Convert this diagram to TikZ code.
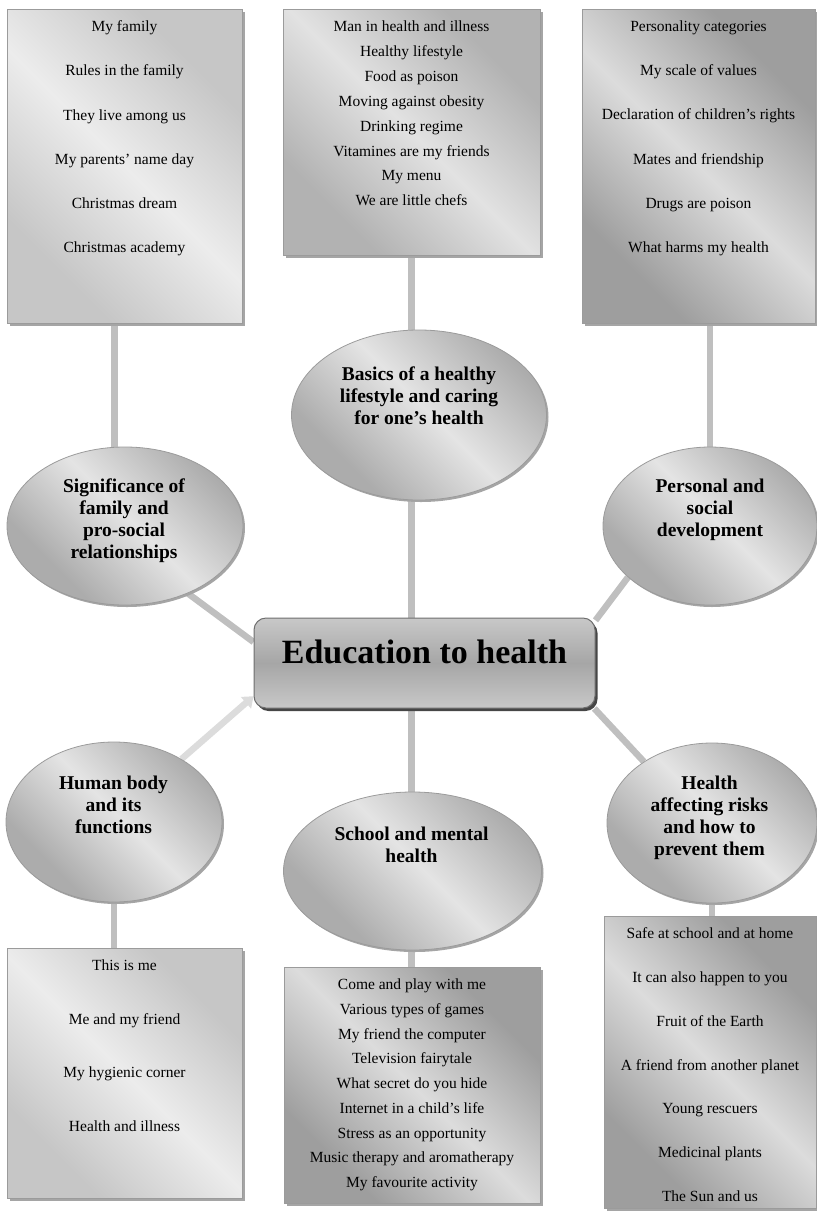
\documentclass[tikz,border=0pt]{standalone}
\usepackage{fontspec}
\setmainfont{Liberation Serif}
\usetikzlibrary{shapes.geometric,shadows,arrows.meta,backgrounds}

\definecolor{linkgray}{RGB}{191,191,191}
\definecolor{linkpale}{RGB}{220,220,220}
\definecolor{rimgray}{RGB}{155,155,155}
\definecolor{hubrim}{RGB}{110,110,110}
\definecolor{paledark}{RGB}{198,198,198}
\definecolor{palelight}{RGB}{236,236,236}
\definecolor{middark}{RGB}{178,178,178}
\definecolor{midlight}{RGB}{226,226,226}
\definecolor{deepdark}{RGB}{158,158,158}
\definecolor{deeplight}{RGB}{220,220,220}
\definecolor{orbdark}{RGB}{172,172,172}
\definecolor{orblight}{RGB}{228,228,228}
\definecolor{hubtop}{RGB}{200,200,200}
\definecolor{hubmid}{RGB}{166,166,166}
\definecolor{shadowgray}{RGB}{165,165,165}
\definecolor{hubshadow}{RGB}{70,70,70}

\pgfdeclarehorizontalshading{panelpale}{100bp}{color(0bp)=(paledark); color(28bp)=(paledark); color(50bp)=(palelight); color(72bp)=(paledark); color(100bp)=(paledark)}
\pgfdeclarehorizontalshading{panelmid}{100bp}{color(0bp)=(middark); color(28bp)=(middark); color(50bp)=(midlight); color(72bp)=(middark); color(100bp)=(middark)}
\pgfdeclarehorizontalshading{paneldeep}{100bp}{color(0bp)=(deepdark); color(28bp)=(deepdark); color(50bp)=(deeplight); color(72bp)=(deepdark); color(100bp)=(deepdark)}
\pgfdeclarehorizontalshading{orbshade}{100bp}{color(0bp)=(orbdark); color(30bp)=(orbdark); color(52bp)=(orblight); color(75bp)=(orbdark); color(100bp)=(orbdark)}

\tikzset{
  panel/.style={rectangle, draw=rimgray, line width=0.8pt, inner sep=0pt,
    shading=#1, shading angle=45,
    drop shadow={shadow xshift=3pt, shadow yshift=-3pt, fill=shadowgray, opacity=1}},
  itemlist/.style={anchor=north, inner sep=0pt, yshift=-12pt, align=center,
    font=\fontsize{15.5}{#1}\selectfont},
  orb/.style={ellipse, draw=rimgray, line width=0.8pt, inner sep=0pt,
    shading=orbshade, shading angle=45,
    drop shadow={shadow xshift=2pt, shadow yshift=-2pt, fill=shadowgray, opacity=1}},
  orbtext/.style={inner sep=0pt, align=center, font=\bfseries\fontsize{19.5}{22}\selectfont},
  hubbox/.style={rectangle, rounded corners=12pt, draw=hubrim, line width=1pt,
    top color=hubtop, bottom color=hubtop, middle color=hubmid,
    drop shadow={shadow xshift=2.5pt, shadow yshift=-3pt, fill=hubshadow, opacity=1},
    font=\bfseries\fontsize{34}{40}\selectfont, text depth=22pt},
  link/.style={draw=linkgray, line width=6.5pt},
  feed/.style={draw=linkpale, line width=6.5pt, -{Triangle[length=10pt,width=15pt]}}
}

\begin{document}
\begin{tikzpicture}[x=1pt, y=-1pt]
    \useasboundingbox (0,0) rectangle (817,1211);

    % panels along the top
    \node[panel=panelpale, minimum width=235pt, minimum height=314pt] (famBox) at (124.5,166) {};
    \node[itemlist=44.2] (famList) at (famBox.north) {My family\\Rules in the family\\They live among us\\My parents’ name day\\Christmas dream\\Christmas academy};

    \node[panel=panelmid, minimum width=257pt, minimum height=246pt] (lifeBox) at (411.5,132) {};
    \node[itemlist=24.9] (lifeList) at (lifeBox.north) {Man in health and illness\\Healthy lifestyle\\Food as poison\\Moving against obesity\\Drinking regime\\Vitamines are my friends\\My menu\\We are little chefs};

    \node[panel=paneldeep, minimum width=233pt, minimum height=314pt] (selfBox) at (698.5,166) {};
    \node[itemlist=44.2] (selfList) at (selfBox.north) {Personality categories\\My scale of values\\Declaration of children’s rights\\Mates and friendship\\Drugs are poison\\What harms my health};

    % topics
    \node[orb, minimum width=236pt, minimum height=158pt] (famTopic) at (125,526) {};
    \node[orbtext] (famText) at (124,521) {Significance of\\family and\\pro-social\\relationships};

    \node[orb, minimum width=255pt, minimum height=170pt] (lifeTopic) at (419,415) {};
    \node[orbtext] (lifeText) at (419,396) {Basics of a healthy\\lifestyle and caring\\for one’s health};

    \node[orb, minimum width=214pt, minimum height=158pt] (selfTopic) at (710,526) {};
    \node[orbtext] (selfText) at (710,510) {Personal and\\social\\development};

    \node[orb, minimum width=216pt, minimum height=160pt] (bodyTopic) at (114,822) {};
    \node[orbtext] (bodyText) at (113.5,805) {Human body\\and its\\functions};

    \node[orb, minimum width=258pt, minimum height=158pt] (schoolTopic) at (412.5,871) {};
    \node[orbtext] (schoolText) at (411.5,845) {School and mental\\health};

    \node[orb, minimum width=210pt, minimum height=160pt] (riskTopic) at (712,823) {};
    \node[orbtext] (riskText) at (709.5,817.5) {Health\\affecting risks\\and how to\\prevent them};

    % centre
    \node[hubbox, minimum width=341pt, minimum height=90pt] (hub) at (424.5,663) {Education to health};

    % panels along the bottom
    \node[panel=panelpale, minimum width=235pt, minimum height=250pt] (bodyBox) at (124.5,1073) {};
    \node[itemlist=53.7] (bodyList) at (bodyBox.north) {This is me\\Me and my friend\\My hygienic corner\\Health and illness};

    \node[panel=paneldeep, minimum width=256pt, minimum height=236pt] (schoolBox) at (412,1085) {};
    \node[itemlist=24.75] (schoolList) at (schoolBox.north) {Come and play with me\\Various types of games\\My friend the computer\\Television fairytale\\What secret do you hide\\Internet in a child’s life\\Stress as an opportunity\\Music therapy and aromatherapy\\My favourite activity};

    \node[panel=paneldeep, minimum width=212pt, minimum height=292pt] (riskBox) at (710,1062) {};
    \node[itemlist=43.8] (riskList) at (riskBox.north) {Safe at school and at home\\It can also happen to you\\Fruit of the Earth\\A friend from another planet\\Young rescuers\\Medicinal plants\\The Sun and us};

    % connectors
    \begin{scope}[on background layer]
        \draw[link] ([xshift=-10pt]famBox.south) -- ([xshift=-10pt]famBox.south |- famTopic.north);
        \draw[link] (lifeBox.south) -- (lifeBox.south |- lifeTopic.north);
        \draw[link] (selfTopic.north |- selfBox.south) -- (selfTopic.north);
        \draw[link] (lifeBox.south |- lifeTopic.south) -- (lifeBox.south |- hub.north);
        \draw[link] (famTopic.-47) -- (hub.173);
        \draw[link] (selfTopic.-148) -- (hub.14);
        \draw[feed] (bodyTopic.43) -- (hub.191);
        \draw[link] (hub.south -| lifeBox.south) -- (schoolTopic.north -| lifeBox.south);
        \draw[link] (hub.-15) -- (riskTopic.138);
        \draw[link] (bodyTopic.south) -- (bodyTopic.south |- bodyBox.north);
        \draw[link] (schoolTopic.south -| lifeBox.south) -- (schoolBox.north -| lifeBox.south);
        \draw[link] (riskTopic.south) -- (riskTopic.south |- riskBox.north);
    \end{scope}

\end{tikzpicture}
\end{document}
